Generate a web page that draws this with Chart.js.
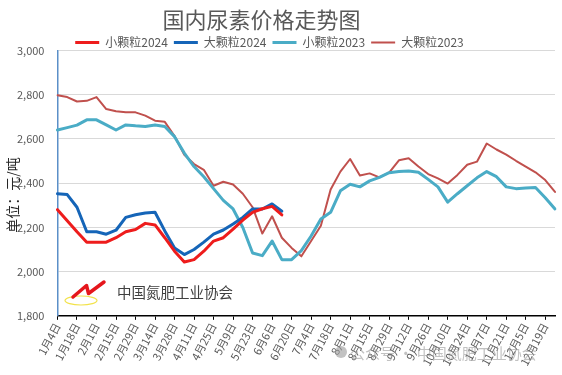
<!DOCTYPE html>
<html>
<head>
<meta charset="utf-8">
<script src="https://cdn.jsdelivr.net/npm/chart.js@4"></script>
<style>
  html, body { margin: 0; padding: 0; background: #fff; }
  #wrap { width: 562px; height: 375px; }
</style>
</head>
<body>
<div id="wrap"><canvas id="c" width="562" height="375"></canvas></div>
<script>
// weekly dates, labelled every other week
const weeks = [
  "1月4日", "1月11日", "1月18日", "1月25日", "2月1日", "2月8日", "2月15日", "2月22日", "2月29日", "3月7日",
  "3月14日", "3月21日", "3月28日", "4月4日", "4月11日", "4月18日", "4月25日", "5月2日", "5月9日", "5月16日",
  "5月23日", "5月30日", "6月6日", "6月13日", "6月20日", "6月27日", "7月4日", "7月11日", "7月18日", "7月25日",
  "8月1日", "8月8日", "8月15日", "8月22日", "8月29日", "9月5日", "9月12日", "9月19日", "9月26日", "10月3日",
  "10月10日", "10月17日", "10月24日", "10月31日", "11月7日", "11月14日", "11月21日", "11月28日", "12月5日", "12月12日",
  "12月19日", "12月26日"
];

const small2024 = [2280, 2230, 2180, 2133, 2133, 2133, 2153, 2180, 2190, 2218, 2211, 2153, 2092, 2043, 2054, 2092,
  2138, 2153, 2192, 2233, 2268, 2284, 2295, 2256];
const large2024 = [2352, 2348, 2291, 2180, 2180, 2169, 2187, 2245, 2257, 2265, 2268, 2184, 2107, 2077, 2100, 2133,
  2169, 2188, 2215, 2245, 2283, 2283, 2306, 2273];
const small2023 = [2640, 2651, 2662, 2686, 2686, 2663, 2640, 2663, 2659, 2656, 2663, 2656, 2610, 2536, 2475, 2429,
  2375, 2322, 2283, 2199, 2084, 2072, 2138, 2054, 2054, 2095, 2161, 2238, 2268, 2365, 2395, 2383, 2410, 2426,
  2447, 2452, 2455, 2449, 2417, 2383, 2314, 2352, 2388, 2424, 2452, 2429, 2383, 2375, 2378, 2380, 2334, 2283];
const large2023 = [2797, 2789, 2769, 2772, 2789, 2735, 2725, 2720, 2720, 2705, 2682, 2677, 2613, 2528, 2486, 2460,
  2388, 2406, 2394, 2352, 2291, 2172, 2250, 2153, 2107, 2069, 2138, 2207, 2371, 2452, 2509, 2434, 2444, 2426,
  2447, 2503, 2512, 2475, 2441, 2421, 2398, 2437, 2483, 2497, 2579, 2552, 2529, 2501, 2475, 2449, 2414, 2360];

const FONT = "'Noto Sans CJK SC', 'Noto Sans', sans-serif";
const GREY = "#595959";

// tighten the legend box and nudge title/legend left, as in the Excel original
const headerFit = {
  id: "headerFit",
  afterInit(chart) {
    const legend = chart.legend;
    if (!legend) return;
    const fit = legend.fit.bind(legend);
    legend.fit = function () {
      fit();
      this.height -= 8;
    };
  },
  afterLayout(chart) {
    if (chart.titleBlock) {
      chart.titleBlock.left -= 18;
      chart.titleBlock.right -= 18;
    }
    if (chart.legend) {
      chart.legend.left -= 10;
      chart.legend.right -= 10;
    }
  }
};

// y title, logo and watermark
const decor = {
  id: "decor",
  afterDraw(chart) {
    const ctx = chart.ctx;
    const area = chart.chartArea;
    ctx.save();
    ctx.translate(13, (area.top + area.bottom) / 2 + 12);
    ctx.rotate(-Math.PI / 2);
    ctx.fillStyle = "#262626";
    ctx.font = "14px " + FONT;
    ctx.textAlign = "center";
    ctx.textBaseline = "middle";
    ctx.fillText("单位：元/吨", 0, 0);
    ctx.restore();

    ctx.save();
    // association logo
    ctx.strokeStyle = "#f2e24a";
    ctx.lineWidth = 1.2;
    ctx.beginPath();
    ctx.ellipse(81, 300.5, 16, 4.5, 0, 0, Math.PI * 2);
    ctx.stroke();
    ctx.strokeStyle = "#e5161c";
    ctx.lineWidth = 3.5;
    ctx.lineJoin = "round";
    ctx.lineCap = "round";
    ctx.beginPath();
    ctx.moveTo(73, 297);
    ctx.lineTo(86.5, 285.5);
    ctx.lineTo(88.5, 293.5);
    ctx.lineTo(104, 282);
    ctx.stroke();
    ctx.fillStyle = "#404040";
    ctx.font = "14.5px " + FONT;
    ctx.textBaseline = "middle";
    ctx.fillText("中国氮肥工业协会", 117, 292);
    // watermark
    ctx.globalAlpha = 0.6;
    ctx.fillStyle = "#9a9a9a";
    ctx.beginPath();
    ctx.arc(341, 352, 6, 0, Math.PI * 2);
    ctx.fill();
    ctx.font = "15px " + FONT;
    ctx.fillText("公众号 · 中国氮肥工业协会", 350, 353);
    ctx.restore();
  }
};

new Chart(document.getElementById("c"), {
  type: "line",
  data: {
    labels: weeks,
    datasets: [
      { label: "小颗粒2024", data: small2024, borderColor: "#ee1c1c", borderWidth: 3 },
      { label: "大颗粒2024", data: large2024, borderColor: "#1565b8", borderWidth: 3 },
      { label: "小颗粒2023", data: small2023, borderColor: "#4aacc6", borderWidth: 3 },
      { label: "大颗粒2023", data: large2023, borderColor: "#c0504d", borderWidth: 2 },
    ],
  },
  options: {
    responsive: false,
    animation: false,
    layout: { padding: { left: 4, right: 7, top: 6, bottom: 6 } },
    elements: {
      point: { radius: 0 },
      line: { tension: 0, borderJoinStyle: "round", borderCapStyle: "round" },
    },
    scales: {
      x: {
        offset: false,
        grid: { drawOnChartArea: false, drawTicks: true, tickLength: 4, color: "#000" },
        border: { color: "#000", width: 1.5 },
        ticks: {
          autoSkip: false,
          minRotation: 62,
          maxRotation: 62,
          padding: 1,
          color: GREY,
          font: { family: FONT, size: 11 },
          callback: (v, i) => (i % 2 === 0 ? weeks[i] : null),
        },
      },
      y: {
        min: 1800,
        max: 3000,
        grid: { color: "#d9d9d9", drawTicks: false },
        border: { color: "#5b8fc8", width: 1.5 },
        ticks: {
          stepSize: 200,
          padding: 13,
          color: GREY,
          font: { family: FONT, size: 11 },
          callback: v => v.toLocaleString("en-US"),
        },
      },
    },
    plugins: {
      title: {
        display: true,
        text: "国内尿素价格走势图",
        color: GREY,
        padding: { top: 0, bottom: -2 },
        font: { family: FONT, size: 22, weight: "normal" },
      },
      legend: {
        display: true,
        position: "top",
        labels: {
          usePointStyle: true,
          pointStyle: "line",
          pointStyleWidth: 24,
          boxHeight: 10,
          padding: 6,
          color: GREY,
          font: { family: FONT, size: 12 },
        },
      },
      tooltip: { enabled: false },
    },
  },
  plugins: [headerFit, decor],
});
</script>
</body>
</html>
